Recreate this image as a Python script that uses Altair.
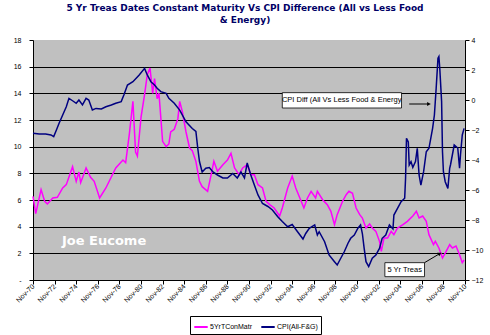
import altair as alt
import pandas as pd

# ---------------- data ----------------
treas_dates = ["1970-11","1971-02","1971-08","1971-12","1972-03","1972-09","1973-02","1973-08","1973-12",
 "1974-07","1974-11","1975-02","1975-04","1975-10","1976-03","1976-07","1977-01","1977-08","1978-07",
 "1979-03","1979-06","1979-10","1980-02","1980-05","1980-07","1980-11","1981-03","1981-06","1981-09",
 "1981-12","1982-02","1982-05","1982-07","1982-09","1982-11","1983-03","1983-06","1983-08","1983-12",
 "1984-04","1984-06","1984-09","1985-01","1985-05","1985-08","1985-12","1986-04","1986-07","1987-01",
 "1987-05","1987-08","1987-12","1988-06","1988-11","1989-03","1989-07","1989-12","1990-04","1990-09",
 "1991-01","1991-05","1991-09","1992-02","1992-06","1992-10","1993-03","1993-09","1993-12","1994-06",
 "1994-11","1995-03","1995-09","1995-12","1996-04","1996-08","1997-01","1997-03","1997-09","1998-02",
 "1998-06","1998-10","1999-01","1999-07","1999-11","2000-02","2000-06","2000-10","2001-02","2001-05",
 "2001-09","2002-01","2002-04","2002-08","2002-12","2003-02","2003-05","2003-09","2004-01","2004-04",
 "2004-08","2005-02","2005-07","2006-01","2006-05","2006-08","2006-12","2007-04","2007-07","2007-12",
 "2008-02","2008-06","2008-10","2009-02","2009-06","2009-09","2010-01","2010-05","2010-08","2010-10"]
treas_vals = [6.28,4.98,6.78,5.9,5.7,6.15,6.2,6.9,7.15,
 8.5,7.4,8.1,7.3,8.4,7.7,7.4,6.15,6.9,8.4,
 9.0,8.8,10.9,13.4,9.6,9.3,12.2,13.9,15.4,15.9,
 14.0,15.1,13.6,14.0,12.2,10.4,10.0,10.2,11.1,11.3,
 12.1,13.4,12.6,11.1,9.9,9.7,8.9,7.4,7.0,6.65,
 7.9,8.9,8.15,8.65,9.0,9.5,8.4,7.9,8.4,8.65,
 7.9,7.9,7.15,6.9,5.9,5.65,5.4,4.8,5.4,6.9,
 7.8,6.9,5.9,5.4,6.15,6.65,6.15,6.65,6.0,5.65,
 5.15,4.15,4.9,5.9,6.4,6.65,6.5,5.4,4.9,4.65,
 3.9,4.2,3.9,3.65,2.9,2.15,3.15,3.15,3.65,3.4,
 3.9,4.15,4.4,4.8,5.15,4.65,4.8,4.4,3.4,2.65,
 2.9,2.4,1.65,2.15,2.65,2.4,2.55,1.9,1.3,1.5]

cpi_dates = ["1970-11","1971-06","1972-01","1972-07","1972-10","1973-01","1973-04","1973-08","1973-12",
 "1974-03","1974-07","1974-11","1975-02","1975-06","1975-10","1976-01","1976-05","1976-09","1977-03",
 "1977-08","1978-02","1978-07","1979-01","1979-04","1979-08","1980-02","1980-09","1981-03","1981-06",
 "1981-10","1982-02","1982-05","1982-09","1983-03","1983-06","1983-12","1984-06","1985-01","1985-08",
 "1985-12","1986-02","1986-04","1986-07","1986-11","1987-03","1987-07","1987-12","1988-06","1988-11",
 "1989-05","1989-10","1990-02","1990-06","1990-09","1991-01","1991-05","1991-09","1992-02","1992-08",
 "1993-01","1993-07","1993-12","1994-06","1994-11","1995-05","1995-11","1996-02","1996-06","1996-12",
 "1997-03","1997-05","1997-11","1998-04","1998-10","1999-01","1999-05","1999-09","2000-01","2000-04",
 "2000-08","2000-12","2001-03","2001-05","2001-07","2001-09","2001-12","2002-04","2002-08","2002-12",
 "2003-03","2003-07","2003-11","2004-03","2004-04","2004-08","2004-12","2005-04","2005-05","2005-06",
 "2005-08","2005-09","2005-11","2006-01","2006-04","2006-06","2006-08","2006-10","2007-01","2007-04",
 "2007-07","2007-11","2008-01","2008-03","2008-05","2008-06","2008-07","2008-09","2008-10","2008-11",
 "2009-01","2009-04","2009-06","2009-07","2009-11","2010-03","2010-05","2010-06","2010-08","2010-10"]
cpi_vals = [-2.22,-2.27,-2.27,-2.33,-2.44,-2.0,-1.55,-1.0,-0.45,
 0.11,-0.05,-0.22,0.0,-0.33,0.11,0.0,-0.67,-0.56,-0.6,
 -0.45,-0.33,-0.22,-0.11,0.33,1.0,1.22,1.67,2.11,1.67,
 1.22,1.0,0.78,0.56,0.44,0.11,-0.22,-0.67,-1.45,-1.9,
 -2.1,-3.2,-4.1,-4.8,-4.55,-4.5,-4.8,-5.0,-5.2,-5.2,
 -4.9,-5.2,-4.8,-5.2,-4.2,-5.0,-5.67,-6.33,-6.9,-7.1,
 -7.33,-7.78,-8.1,-8.45,-8.3,-8.78,-9.27,-8.9,-8.55,-8.33,
 -9.0,-8.78,-9.45,-10.33,-10.78,-11.0,-10.55,-10.1,-9.55,-9.22,
 -9.0,-8.55,-8.33,-8.9,-9.89,-10.78,-11.1,-10.55,-10.33,-9.89,
 -9.22,-9.0,-8.33,-8.6,-7.67,-7.22,-6.78,-6.55,-5.22,-2.55,
 -2.8,-4.33,-4.11,-4.5,-4.11,-3.22,-5.0,-5.67,-4.78,-3.45,
 -3.22,-1.89,-1.0,0.78,2.78,2.89,2.11,-0.11,-3.45,-4.78,
 -5.45,-5.89,-4.55,-4.3,-3.0,-3.2,-4.55,-3.67,-2.33,-1.89]

series_names = ["5YrTConMatr", "CPI(All-F&G)"]
series_colors = ["#FF00FF", "#000080"]

left_ticks = [0, 2, 4, 6, 8, 10, 12, 14, 16, 18]
right_ticks = [4, 2, 0, -2, -4, -6, -8, -10, -12]
x_tick_years = list(range(1970, 2011, 2))

title_lines = ["5 Yr Treas Dates Constant Maturity Vs CPI Difference (All vs Less Food", "& Energy)"]

# annotations (in data units)
ann_text = ["CPI Diff (All Vs Less Food & Energy", "5 Yr Treas"]
ann_x = ["1993-12-01", "2003-06-01"]
ann_x2 = ["2004-12-15", "2007-02-01"]
ann_y = [14.05, 1.3]
ann_y2 = [12.9, 0.25]
ann_tx = ["1999-06-01", "2005-04-01"]
ann_ty = [13.47, 0.77]
arrow_x = ["2005-09-01", "2007-02-01"]
arrow_x2 = ["2007-07-01", "2008-07-01"]
arrow_y = [13.2, 1.3]
arrow_y2 = [13.2, 1.98]
arrow_angle = [90, 59]
watermark = "Joe Eucome"
wm_x = "1977-06-01"
wm_y = 2.95

# ---------------- tables ----------------
df_t = pd.DataFrame({"date": [d + "-01" for d in treas_dates], "value": treas_vals, "series": series_names[0]})
df_c = pd.DataFrame({"date": [d + "-01" for d in cpi_dates], "value": cpi_vals, "series": series_names[1]})
df_ann = pd.DataFrame({"text": ann_text, "x": ann_x, "x2": ann_x2, "y": ann_y, "y2": ann_y2,
                       "tx": ann_tx, "ty": ann_ty})
df_arrow = pd.DataFrame({"x": arrow_x, "x2": arrow_x2, "y": arrow_y, "y2": arrow_y2, "angle": arrow_angle})
df_wm = pd.DataFrame({"text": [watermark], "x": [wm_x], "y": [wm_y]})

FONT = "Liberation Sans"

x_scale = alt.Scale(domain=[alt.DateTime(year=1970, month=11, date=1),
                            alt.DateTime(year=2010, month=11, date=1)])
x_axis = alt.Axis(values=[alt.DateTime(year=y, month=11, date=1) for y in x_tick_years],
                  format="%b-%y", labelAngle=-45, labelAlign="right", labelBaseline="middle",
                  labelFontSize=7, labelFont=FONT, labelColor="black", labelPadding=1,
                  labelOverlap=False, labelBound=False,
                  domainColor="black", tickColor="black", tickSize=4, grid=False, title=None)
x_enc = alt.X("date:T", scale=x_scale, axis=x_axis)

left_scale = alt.Scale(domain=[0, 18], nice=False)
left_axis = alt.Axis(values=left_ticks, labelExpr="datum.value == 0 ? '-' : datum.label",
                     labelFontSize=7, labelFont=FONT, labelColor="black", labelPadding=8,
                     domainColor="black", tickColor="black", tickSize=4,
                     grid=True, gridColor="black", gridWidth=1,
                     gridOpacity={"condition": {"test": "datum.value == 18", "value": 0}, "value": 1},
                     title=None)

color_enc = alt.Color("series:N",
                      scale=alt.Scale(domain=series_names, range=series_colors),
                      legend=alt.Legend(title=None, orient="none", legendX=157, legendY=276,
                                        direction="horizontal", symbolType="stroke",
                                        symbolStrokeWidth=2, symbolSize=180, labelFontSize=7,
                                        labelFont=FONT, labelColor="black", columnPadding=4,
                                        labelOffset=1, padding=3, strokeColor="black",
                                        fillColor="white", symbolOffset=0))

def ly(field):
    return alt.Y(field, type="quantitative", scale=left_scale, axis=left_axis)

treas_line = alt.Chart(df_t).mark_line(strokeWidth=1.5).encode(
    x=x_enc, y=ly("value"), color=color_enc)

ann_box = alt.Chart(df_ann).mark_rect(fill="white", stroke="black", strokeWidth=0.8).encode(
    x=alt.X("x:T", scale=x_scale, axis=x_axis), x2="x2:T", y=ly("y"), y2="y2:Q")
ann_lbl = alt.Chart(df_ann).mark_text(fontSize=7.5, font=FONT, color="black").encode(
    x=alt.X("tx:T", scale=x_scale, axis=x_axis), y=ly("ty"), text="text:N")
arrow_line = alt.Chart(df_arrow).mark_rule(color="black", strokeWidth=1).encode(
    x=alt.X("x:T", scale=x_scale, axis=x_axis), x2="x2:T", y=ly("y"), y2="y2:Q")
arrow_head = alt.Chart(df_arrow).mark_point(shape="triangle-up", filled=True, color="black",
                                            size=18, opacity=1).encode(
    x=alt.X("x2:T", scale=x_scale, axis=x_axis), y=ly("y2"), angle=alt.Angle("angle:Q", scale=None))
wm = alt.Chart(df_wm).mark_text(fontSize=13, font="DejaVu Sans", fontWeight="bold", color="white").encode(
    x=alt.X("x:T", scale=x_scale, axis=x_axis), y=ly("y"), text="text:N")

left_layer = alt.layer(treas_line, wm, ann_box, ann_lbl, arrow_line, arrow_head)

cpi_line = alt.Chart(df_c).mark_line(strokeWidth=1.5).encode(
    x=x_enc,
    y=alt.Y("value:Q", scale=alt.Scale(domain=[-12, 4], nice=False),
            axis=alt.Axis(orient="right", values=right_ticks, labelFontSize=7, labelFont=FONT,
                          labelColor="black", labelPadding=2, domainColor="black",
                          tickColor="black", tickSize=4, grid=False, title=None)),
    color=color_enc)

chart = alt.layer(left_layer, cpi_line).resolve_scale(y="independent").properties(
    width=432, height=240,
    background="white",
    title=alt.TitleParams(text=title_lines, font="DejaVu Sans", fontSize=9, fontWeight="bold",
                          color="#000066", anchor="middle", offset=11, lineHeight=12, dx=-4),
    autosize=alt.AutoSizeParams(type="none"),
    padding={"left": 33, "top": 40, "right": 25, "bottom": 55},
).configure_view(fill="#C0C0C0", stroke=None)

chart.save("out.html", embed_options={"renderer": "svg", "actions": False})
